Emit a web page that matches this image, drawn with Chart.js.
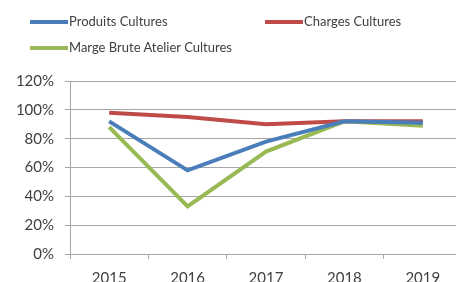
<!DOCTYPE html>
<html>
<head>
<meta charset="utf-8">
<script src="https://cdn.jsdelivr.net/npm/chart.js@4.4.0/dist/chart.umd.min.js"></script>
<style>
  body { margin: 0; background: #fff; overflow: hidden; }
  #wrap { position: relative; width: 470px; height: 282px; }
  #myChart { position: absolute; left: 0; top: 0; }
  .leg { position: absolute; font-family: Lato, sans-serif; font-size: 13px; color: #404040; white-space: nowrap; }
  .leg span { display: inline-block; width: 38px; height: 4px; vertical-align: middle; margin-right: 1px; position: relative; top: -1px; }
</style>
</head>
<body>
<div id="wrap">
  <canvas id="myChart" width="470" height="290"></canvas>
  <div class="leg" style="left:30px; top:13px;"><span style="background:#4a7ebb"></span>Produits Cultures</div>
  <div class="leg" style="left:265px; top:13px;"><span style="background:#be4b48"></span>Charges Cultures</div>
  <div class="leg" style="left:30px; top:39px;"><span style="background:#98b954"></span>Marge Brute Atelier Cultures</div>
</div>
<script>
// data (percent)
var years = ['2015', '2016', '2017', '2018', '2019'];
var produits = [92, 58, 78, 92, 91];
var charges = [98, 95, 90, 92, 92];
var marge = [88, 33, 71, 92, 89];

Chart.defaults.font.family = 'Lato, sans-serif';
Chart.defaults.color = '#404040';

var ctx = document.getElementById('myChart').getContext('2d');

var myChart = new Chart(ctx, {
    type: 'line',
    data: {
        labels: years,
        datasets: [
            { label: 'Produits Cultures', data: produits, borderColor: '#4a7ebb', borderWidth: 4 },
            { label: 'Charges Cultures', data: charges, borderColor: '#be4b48', borderWidth: 4 },
            { label: 'Marge Brute Atelier Cultures', data: marge, borderColor: '#98b954', borderWidth: 4 }
        ]
    },
    options: {
        responsive: false,
        animation: false,
        elements: { point: { radius: 0 }, line: { tension: 0 } },
        layout: { padding: { left: 0, top: 81, right: 8, bottom: 0 } },
        scales: {
            y: {
                min: 0,
                max: 120,
                ticks: {
                    stepSize: 20,
                    padding: 11,
                    font: { size: 15 },
                    callback: function(v) { return v + '%'; }
                },
                grid: { color: '#a6a6a6', tickLength: 5 },
                border: { color: '#a6a6a6' },
                afterFit: function(scale) { scale.width = 70; }
            },
            x: {
                offset: true,
                ticks: { padding: 10, font: { size: 15 } },
                grid: { offset: true, drawOnChartArea: false, color: '#a6a6a6', tickLength: 5 },
                border: { color: '#a6a6a6' },
                afterFit: function(scale) { scale.height = 36; }
            }
        },
        plugins: {
            legend: { display: false },
            tooltip: { enabled: false }
        }
    }
});
</script>
</body>
</html>
